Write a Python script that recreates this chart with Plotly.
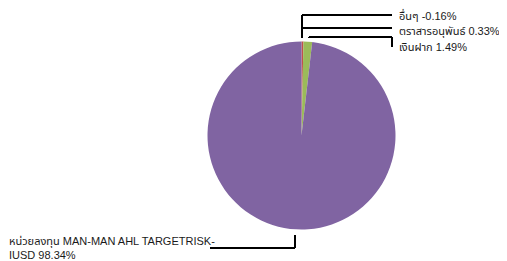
import plotly.graph_objects as go

# Data
labels = ["อื่นๆ", "ตราสารอนุพันธ์", "เงินฝาก", "หน่วยลงทุน MAN-MAN AHL TARGETRISK-IUSD"]
values = [-0.16, 0.33, 1.49, 98.34]
colors = ["#4F81BD", "#C0504D", "#9BBB59", "#8064A2"]

# page body has an 8px margin; work in viewport pixels and convert
OFF = 8
W, H = 507 - OFF, 261 - OFF

def px(x):
    return (x - OFF) / W

def py(y):
    return 1 - (y - OFF) / H

pie_values = [max(v, 0) for v in values]

fig = go.Figure(go.Pie(
    labels=labels,
    values=pie_values,
    marker=dict(colors=colors, line=dict(width=0)),
    sort=False,
    direction="clockwise",
    rotation=0,
    textinfo="none",
    hoverinfo="label+value",
    showlegend=False,
    domain=dict(x=[px(207.5), px(395.5)], y=[py(229.5), py(41.5)]),
))

line = dict(color="black", width=2)
shapes = []
def seg(x0, y0, x1, y1):
    shapes.append(dict(type="line", xref="paper", yref="paper",
                       x0=px(x0), y0=py(y0), x1=px(x1), y1=py(y1), line=line))

# others
seg(302, 38, 302, 15)
seg(302, 15, 392, 15)
# derivatives
seg(302, 28, 392, 28)
# cash
seg(309, 38, 309, 37)
seg(309, 37, 392, 37)
seg(392, 37, 392, 47)
# units
seg(295, 235, 295, 248)
seg(295, 248, 210, 248)

fmt = lambda l, v: f"{l} {v:.2f}%"
font = dict(family="Liberation Sans, Noto Sans Thai, Noto Sans, sans-serif", size=11, color="#1a1a1a")
annotations = [
    dict(text=fmt(labels[0], values[0]), x=px(397), y=py(15), xanchor="left", yanchor="middle"),
    dict(text=fmt(labels[1], values[1]), x=px(397), y=py(31), xanchor="left", yanchor="middle"),
    dict(text=fmt(labels[2], values[2]), x=px(397), y=py(47), xanchor="left", yanchor="middle"),
    dict(text="หน่วยลงทุน MAN-MAN AHL TARGETRISK-<br>IUSD " + f"{values[3]:.2f}%",
         x=px(7), y=py(247.5), xanchor="left", yanchor="middle", align="left"),
]
for a in annotations:
    a.update(xref="paper", yref="paper", showarrow=False, font=font)

fig.update_layout(
    width=W, height=H,
    margin=dict(l=0, r=0, t=0, b=0),
    paper_bgcolor="white", plot_bgcolor="white",
    shapes=shapes, annotations=annotations,
)

fig.write_html("out.html")
